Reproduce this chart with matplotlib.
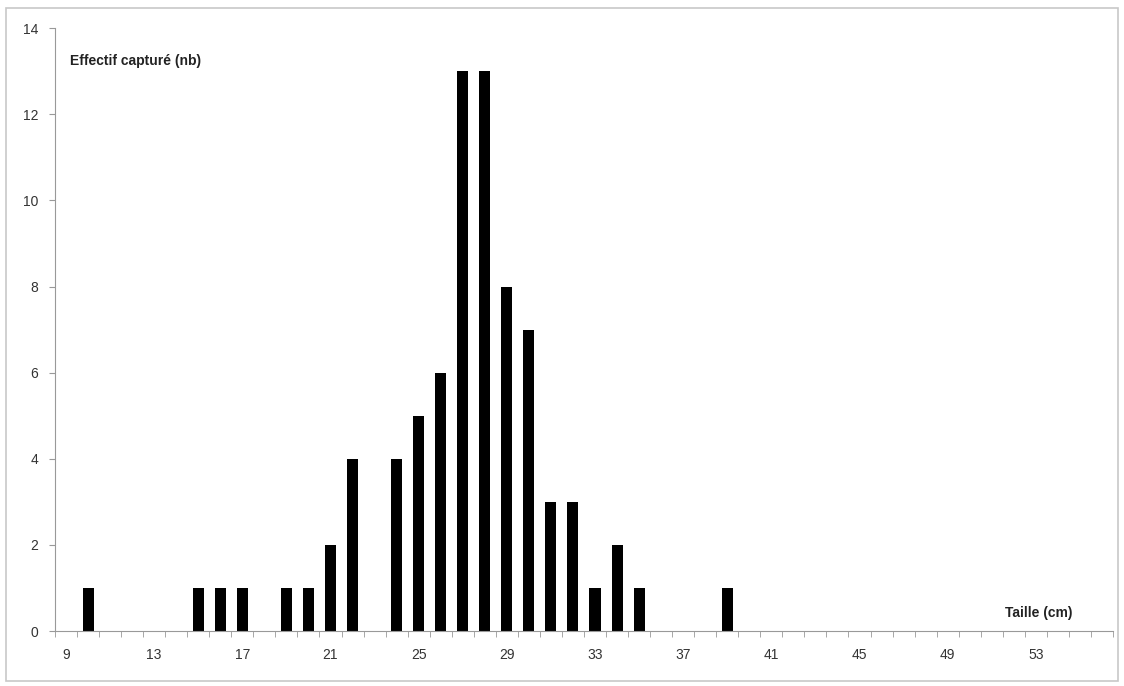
import matplotlib.pyplot as plt
from matplotlib.patches import Rectangle

plt.rcParams['font.family'] = ['Liberation Sans', 'DejaVu Sans']

# taille (cm) -> effectif capturé
tailles = list(range(9, 57))
counts_by_size = {10: 1, 15: 1, 16: 1, 17: 1, 19: 1, 20: 1, 21: 2, 22: 4,
                  24: 4, 25: 5, 26: 6, 27: 13, 28: 13, 29: 8, 30: 7,
                  31: 3, 32: 3, 33: 1, 34: 2, 35: 1, 39: 1}
effectifs = [counts_by_size.get(t, 0) for t in tailles]
xtick_labels = [str(t) for t in range(9, 57, 4)]

fig = plt.figure(figsize=(11.24, 6.86), dpi=100)
ax = fig.add_axes([0.0489, 0.080, 0.9413, 0.879])

# cadre gris autour du graphique
fig.patches.append(Rectangle((0.005, 0.008), 0.99, 0.98, transform=fig.transFigure,
                             fill=False, edgecolor='#c8c8c8', linewidth=1.2))

pos = list(range(len(tailles)))
ax.bar(pos, effectifs, width=0.5, color='black')

ax.set_xlim(-0.5, len(tailles) - 0.5)
ax.set_ylim(0, 14)
ax.set_yticks(range(0, 15, 2))

# labels au centre des catégories, graduations aux limites
ax.set_xticks([tailles.index(int(l)) for l in xtick_labels])
ax.set_xticklabels(xtick_labels)
ax.set_xticks([p - 0.5 for p in range(len(tailles) + 1)], minor=True)
ax.tick_params(axis='x', which='major', length=0, pad=12, labelsize=10, labelcolor='#333333')
ax.tick_params(axis='x', which='minor', length=4, color='#999999')
ax.tick_params(axis='y', length=4, color='#999999', labelsize=10, labelcolor='#333333', pad=8)

for side in ['top', 'right']:
    ax.spines[side].set_visible(False)
for side in ['left', 'bottom']:
    ax.spines[side].set_color('#999999')

ax.text(0.014, 0.945, 'Effectif capturé (nb)', transform=ax.transAxes,
        fontsize=10, fontweight='bold', color='#222222', va='center')
ax.text(0.962, 0.030, 'Taille (cm)', transform=ax.transAxes,
        fontsize=10, fontweight='bold', color='#222222', va='center', ha='right')

fig.savefig('out.png', dpi=100)
